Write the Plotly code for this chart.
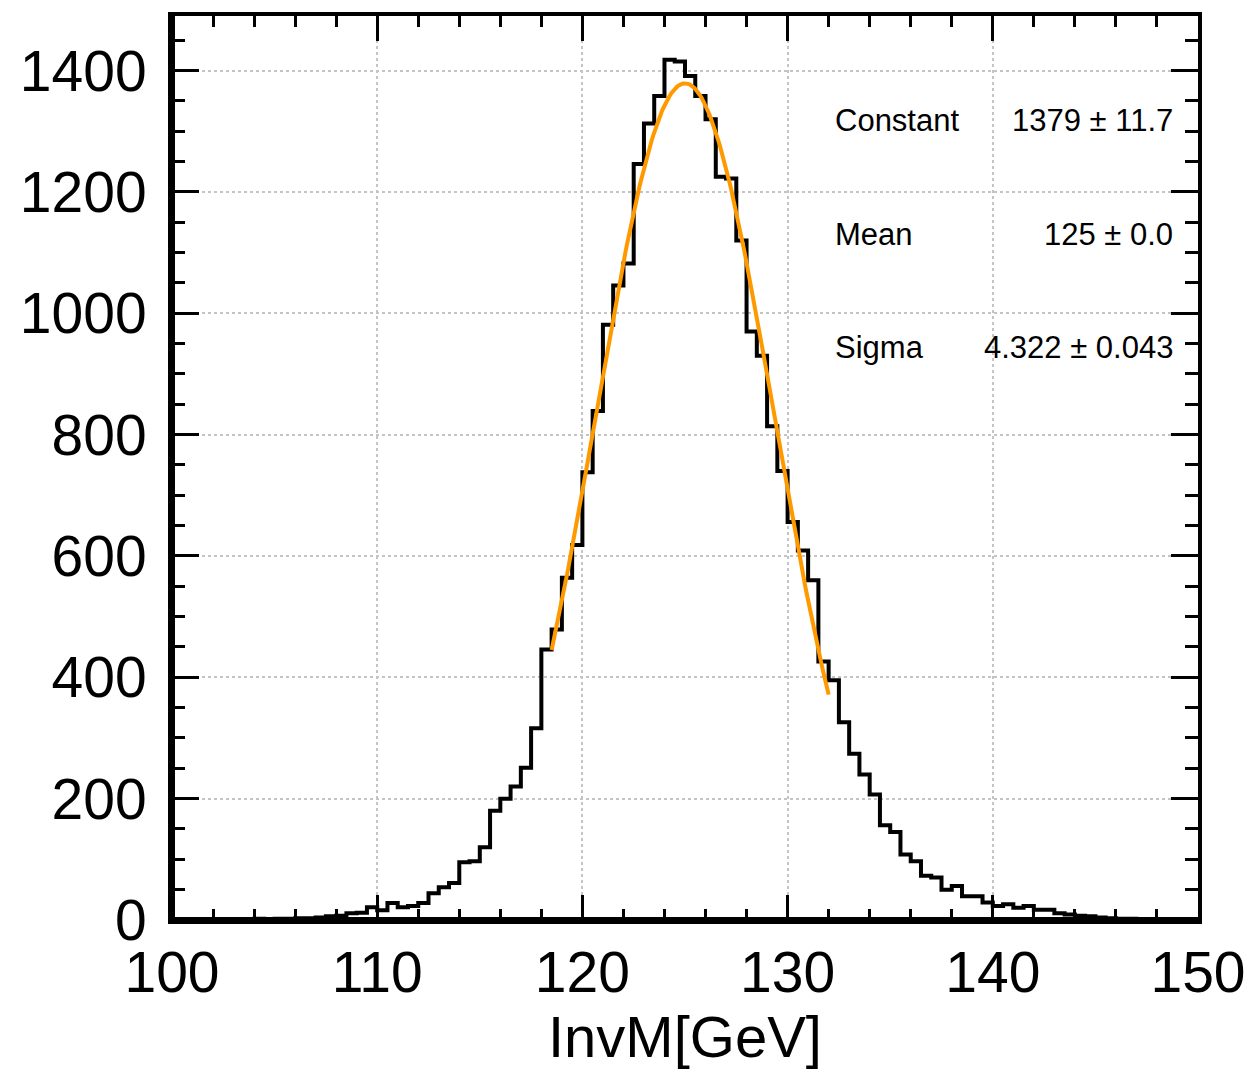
import numpy as np
import plotly.graph_objects as go

# ---- data ----
bin_start = 100.0
bin_width = 0.5
counts = [
    0, 0, 1, 0, 1, 1, 0, 1, 2, 1,            # 100.0 - 104.5
    2, 2, 3, 3, 4,                           # 105.0 - 107.0
    6, 7, 11, 12, 21, 16, 28, 21, 23, 28,    # 107.5 - 112.0
    44, 54, 61, 95, 97, 120, 180, 200, 220, 251,   # 112.5 - 117.0
    316, 446, 479, 564, 618, 738, 839, 981, 1046, 1082,  # 117.5 - 122.0
    1246, 1313, 1358, 1418, 1415, 1391, 1358, 1320, 1225, 1222,  # 122.5 - 127.0
    1120, 970, 930, 814, 740, 656, 609, 560, 426, 395,  # 127.5 - 132.0
    326, 274, 240, 207, 156, 145, 108, 97, 73, 70,      # 132.5 - 137.0
    50, 56, 39, 39, 29, 23, 26, 20, 23, 17,             # 137.5 - 142.0
    17, 11, 9, 7, 6, 4, 3, 2, 2, 1,                     # 142.5 - 147.0
    1, 1, 0, 1, 0,                                      # 147.5 - 149.5
]

fit_constant = 1379.0
fit_mean = 125.0
fit_sigma = 4.322
fit_range = [118.5, 132.0]

stat_names = ["Constant", "Mean", "Sigma"]
stat_values = ["1379 \u00b1 11.7", "125 \u00b1 0.0", "4.322 \u00b1 0.043"]

x_ticks = [100, 110, 120, 130, 140, 150]
y_ticks = [0, 200, 400, 600, 800, 1000, 1200, 1400]

# ---- build figure ----
edges = [bin_start + i * bin_width for i in range(len(counts) + 1)]
step_x = edges
step_y = counts + [counts[-1]]

fx = np.linspace(fit_range[0], fit_range[1], 200)
fy = fit_constant * np.exp(-0.5 * ((fx - fit_mean) / fit_sigma) ** 2)

FONT = "Liberation Sans, Arial, Helvetica, sans-serif"

fig = go.Figure()
fig.add_trace(go.Scatter(x=step_x, y=step_y, mode="lines",
                         line=dict(color="black", width=4, shape="hv"),
                         hoverinfo="skip", showlegend=False))
fig.add_trace(go.Scatter(x=fx, y=fy, mode="lines",
                         line=dict(color="#ff9900", width=4),
                         hoverinfo="skip", showlegend=False))

axis_common = dict(
    showline=True, linecolor="black", linewidth=4, mirror="allticks",
    ticks="inside", tickwidth=3, tickcolor="black",
    showgrid=True, gridcolor="#c4c4c4", gridwidth=1.5, griddash="dot",
    zeroline=False,
    tickfont=dict(family=FONT, size=57, color="black"),
)

fig.update_xaxes(**axis_common, range=[100, 150], tickvals=x_ticks, ticklen=25,
                 minor=dict(dtick=2, tick0=100, ticklen=11, ticks="inside",
                            tickwidth=3, tickcolor="black", showgrid=False),
                 ticklabelstandoff=0,
                 title=dict(text="InvM[GeV]", font=dict(family=FONT, size=58, color="black"),
                            standoff=13))
fig.update_yaxes(**axis_common, range=[0, 1490], tickvals=y_ticks, ticklen=27,
                 minor=dict(dtick=50, tick0=0, ticklen=13, ticks="inside",
                            tickwidth=3, tickcolor="black", showgrid=False),
                 ticklabelstandoff=10)

# thicker left / bottom frame lines
fig.add_shape(type="line", xref="paper", yref="paper", x0=0, x1=0, y0=0, y1=1,
              line=dict(color="black", width=6))
fig.add_shape(type="line", xref="paper", yref="paper", x0=0, x1=1, y0=0, y1=0,
              line=dict(color="black", width=6))

# stats box text
L, R, T, B = 172, 1203, 12, 920
W, H = R - L, B - T
row_y = [117, 231, 345]
for name, val, ypx in zip(stat_names, stat_values, row_y):
    yp = (B - ypx) / H
    fig.add_annotation(x=(836 - L) / W, y=yp, xref="paper", yref="paper",
                       text=name, showarrow=False, xanchor="left", yanchor="middle",
                       font=dict(family=FONT, size=31, color="black"))
    fig.add_annotation(x=(1180 - L) / W, y=yp, xref="paper", yref="paper",
                       text=val, showarrow=False, xanchor="right", yanchor="middle",
                       font=dict(family=FONT, size=31, color="black"))

fig.update_layout(
    width=1258, height=1070,
    margin=dict(l=L, r=1258 - R, t=T, b=1070 - B),
    plot_bgcolor="white", paper_bgcolor="white",
    showlegend=False,
)

fig.write_html("out.html")
